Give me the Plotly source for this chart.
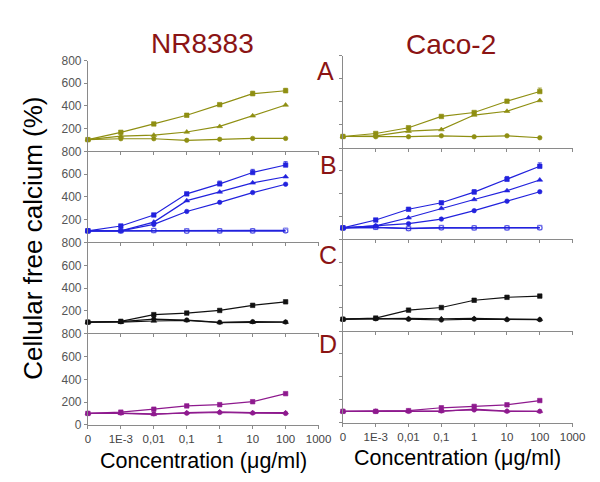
import plotly.graph_objects as go

# ---------------- data ----------------
conc_labels = ["0", "1E-3", "0,01", "0,1", "1", "10", "100"]
axis_labels = conc_labels + ["1000"]

# Panel A (olive)
A_left_sq = [100, 165, 239, 316, 410, 507, 533]
A_left_tri = [100, 131, 140, 168, 217, 311, 407]
A_left_ci = [100, 108, 108, 94, 103, 111, 111]
A_right_sq = [100, 126, 176, 274, 308, 406, 490]
A_right_tri = [100, 106, 146, 160, 286, 319, 412]
A_right_ci = [100, 98, 98, 106, 98, 106, 89]

# Panel B (blue)
B_left_sq = [100, 143, 240, 426, 514, 614, 680]
B_left_tri = [100, 100, 177, 366, 443, 523, 577]
B_left_ci = [100, 100, 157, 271, 351, 437, 511]
B_left_osq = [100, 100, 103, 100, 100, 100, 105]
B_left_oci = [100, 100, 103, 97, 100, 100, 98]
B_right_sq = [100, 169, 263, 320, 414, 526, 640]
B_right_tri = [100, 117, 189, 271, 349, 426, 520]
B_right_ci = [100, 117, 137, 177, 251, 334, 417]
B_right_osq = [100, 105, 95, 103, 100, 100, 103]
B_right_oci = [100, 105, 93, 100, 100, 100, 100]

# Panel C (black)
C_left_sq = [100, 107, 166, 180, 203, 248, 279]
C_left_ci = [100, 104, 127, 118, 99, 104, 101]
C_left_tri = [100, 100, 110, 115, 96, 100, 100]
C_right_sq = [100, 110, 180, 203, 267, 293, 304]
C_right_tri = [100, 104, 107, 104, 107, 101, 99]
C_right_ci = [100, 104, 100, 93, 101, 96, 96]

# Panel D (purple)
D_left_sq = [100, 111, 137, 166, 177, 203, 274]
D_left_tri = [100, 100, 91, 106, 114, 106, 106]
D_left_ci = [100, 103, 96, 102, 108, 103, 100]
D_right_sq = [100, 100, 106, 131, 143, 157, 194]
D_right_tri = [100, 100, 100, 100, 120, 103, 100]
D_right_ci = [100, 100, 100, 104, 112, 100, 100]

# upper error bars (top series)
A_left_err = [0, 0, 0, 0, 10, 22, 22]
A_right_err = [0, 0, 0, 0, 0, 0, 30]
B_left_err = [0, 0, 0, 0, 25, 28, 30]
B_right_err = [0, 0, 0, 0, 20, 25, 30]

y_ticks_upper = [200, 400, 600, 800]
y_ticks_lower = [0, 200, 400, 600, 800]

# ---------------- styling ----------------
W, H = 600, 482
OLIVE = "#8f8f12"
BLUE = "#2222dd"
BLACK = "#111111"
PURPLE = "#8e1a8e"
RED = "#8b1414"
AXC = "#8a8a8a"
FONT = "Liberation Sans, Arial, sans-serif"

def fx(px):
    return px / W

def fy(py):
    return 1 - py / H

# pixel geometry of panels: (x_left, x_right, y_top, y_bottom)
geom = {
    (0, 0): (79, 316, 47, 140),
    (0, 1): (79, 316, 140.5, 234),
    (0, 2): (79, 316, 234.5, 328),
    (0, 3): (79, 316, 328.5, 422),
    (1, 0): (341, 577, 42, 137),
    (1, 1): (341, 577, 137, 231),
    (1, 2): (341, 577, 231.5, 325),
    (1, 3): (341, 577, 325.5, 420),
}

def ax_index(col, row):
    return row * 2 + col + 1

xpos = [axis_labels.index(c) for c in conc_labels]

panels = {
    (0, 0): (OLIVE, [(A_left_sq, "square", A_left_err), (A_left_tri, "triangle-up", None), (A_left_ci, "circle", None)]),
    (1, 0): (OLIVE, [(A_right_sq, "square", A_right_err), (A_right_tri, "triangle-up", None), (A_right_ci, "circle", None)]),
    (0, 1): (BLUE, [(B_left_osq, "square-open", None), (B_left_oci, "circle-open", None),
                    (B_left_sq, "square", B_left_err), (B_left_tri, "triangle-up", None), (B_left_ci, "circle", None)]),
    (1, 1): (BLUE, [(B_right_osq, "square-open", None), (B_right_oci, "circle-open", None),
                    (B_right_sq, "square", B_right_err), (B_right_tri, "triangle-up", None), (B_right_ci, "circle", None)]),
    (0, 2): (BLACK, [(C_left_sq, "square", None), (C_left_ci, "circle", None), (C_left_tri, "triangle-up", None)]),
    (1, 2): (BLACK, [(C_right_sq, "square", None), (C_right_tri, "triangle-up", None), (C_right_ci, "circle", None)]),
    (0, 3): (PURPLE, [(D_left_sq, "square", None), (D_left_tri, "triangle-up", None), (D_left_ci, "circle", None)]),
    (1, 3): (PURPLE, [(D_right_sq, "square", None), (D_right_tri, "triangle-up", None), (D_right_ci, "circle", None)]),
}

fig = go.Figure()
layout = {}

for (col, row), (color, series) in panels.items():
    n = ax_index(col, row)
    xs = "" if n == 1 else str(n)
    for vals, sym, err in series:
        tr = dict(
            x=xpos, y=vals, mode="lines+markers",
            line=dict(color=color, width=1.2),
            marker=dict(symbol=sym, size=5 if "triangle" in sym else 4.5, color=color,
                        line=dict(color=color, width=0.6)),
            xaxis="x" + xs, yaxis="y" + xs, showlegend=False, cliponaxis=False,
        )
        if err is not None:
            tr["error_y"] = dict(type="data", symmetric=False, array=err,
                                 arrayminus=[0] * len(err), color=color,
                                 thickness=0.8, width=2)
        fig.add_trace(go.Scatter(**tr))

    x0, x1, yt, yb = geom[(col, row)]
    layout["xaxis" + xs] = dict(
        domain=[fx(x0), fx(x1)], anchor="y" + xs, range=[0, len(axis_labels) - 1],
        tickmode="array", tickvals=list(range(len(axis_labels))), ticktext=axis_labels,
        showticklabels=(row == 3), ticks="outside", ticklen=3, tickcolor=AXC,
        showline=True, linecolor=AXC, linewidth=1, showgrid=False, zeroline=False,
        tickfont=dict(family=FONT, size=11.5, color="#444444"), fixedrange=True,
    )
    layout["yaxis" + xs] = dict(
        domain=[fy(yb), fy(yt)], anchor="x" + xs, range=[0, 800],
        tickmode="array", tickvals=(y_ticks_lower if row == 3 else y_ticks_upper),
        showticklabels=(col == 0), ticks="outside", ticklen=3, tickcolor=AXC,
        showline=True, linecolor=AXC, linewidth=1, showgrid=False, zeroline=False,
        tickfont=dict(family=FONT, size=12, color="#555555"), fixedrange=True,
    )

annotations = [
    dict(text="NR8383", x=fx(197), y=fy(29), font=dict(size=28, color=RED)),
    dict(text="Caco-2", x=fx(452), y=fy(30), font=dict(size=28, color=RED)),
    dict(text="A", x=fx(323), y=fy(58), font=dict(size=25, color=RED)),
    dict(text="B", x=fx(326), y=fy(154), font=dict(size=25, color=RED)),
    dict(text="C", x=fx(326), y=fy(247), font=dict(size=25, color=RED)),
    dict(text="D", x=fx(326), y=fy(339), font=dict(size=25, color=RED)),
    dict(text="Cellular free calcium (%)", x=fx(23), y=fy(230), textangle=-90,
         font=dict(size=26, color="#000000")),
    dict(text="Concentration (μg/ml)", x=fx(198), y=fy(459),
         font=dict(size=21.5, color="#000000")),
    dict(text="Concentration (μg/ml)", x=fx(459), y=fy(456),
         font=dict(size=21.5, color="#000000")),
]
for a in annotations:
    a.update(xref="paper", yref="paper", showarrow=False,
             xanchor="center", yanchor="middle")
    a["font"]["family"] = FONT

fig.update_layout(
    width=W, height=H, autosize=False,
    margin=dict(l=0, r=0, t=0, b=0),
    paper_bgcolor="white", plot_bgcolor="white",
    annotations=annotations, **layout,
)

fig.write_html("out.html")
